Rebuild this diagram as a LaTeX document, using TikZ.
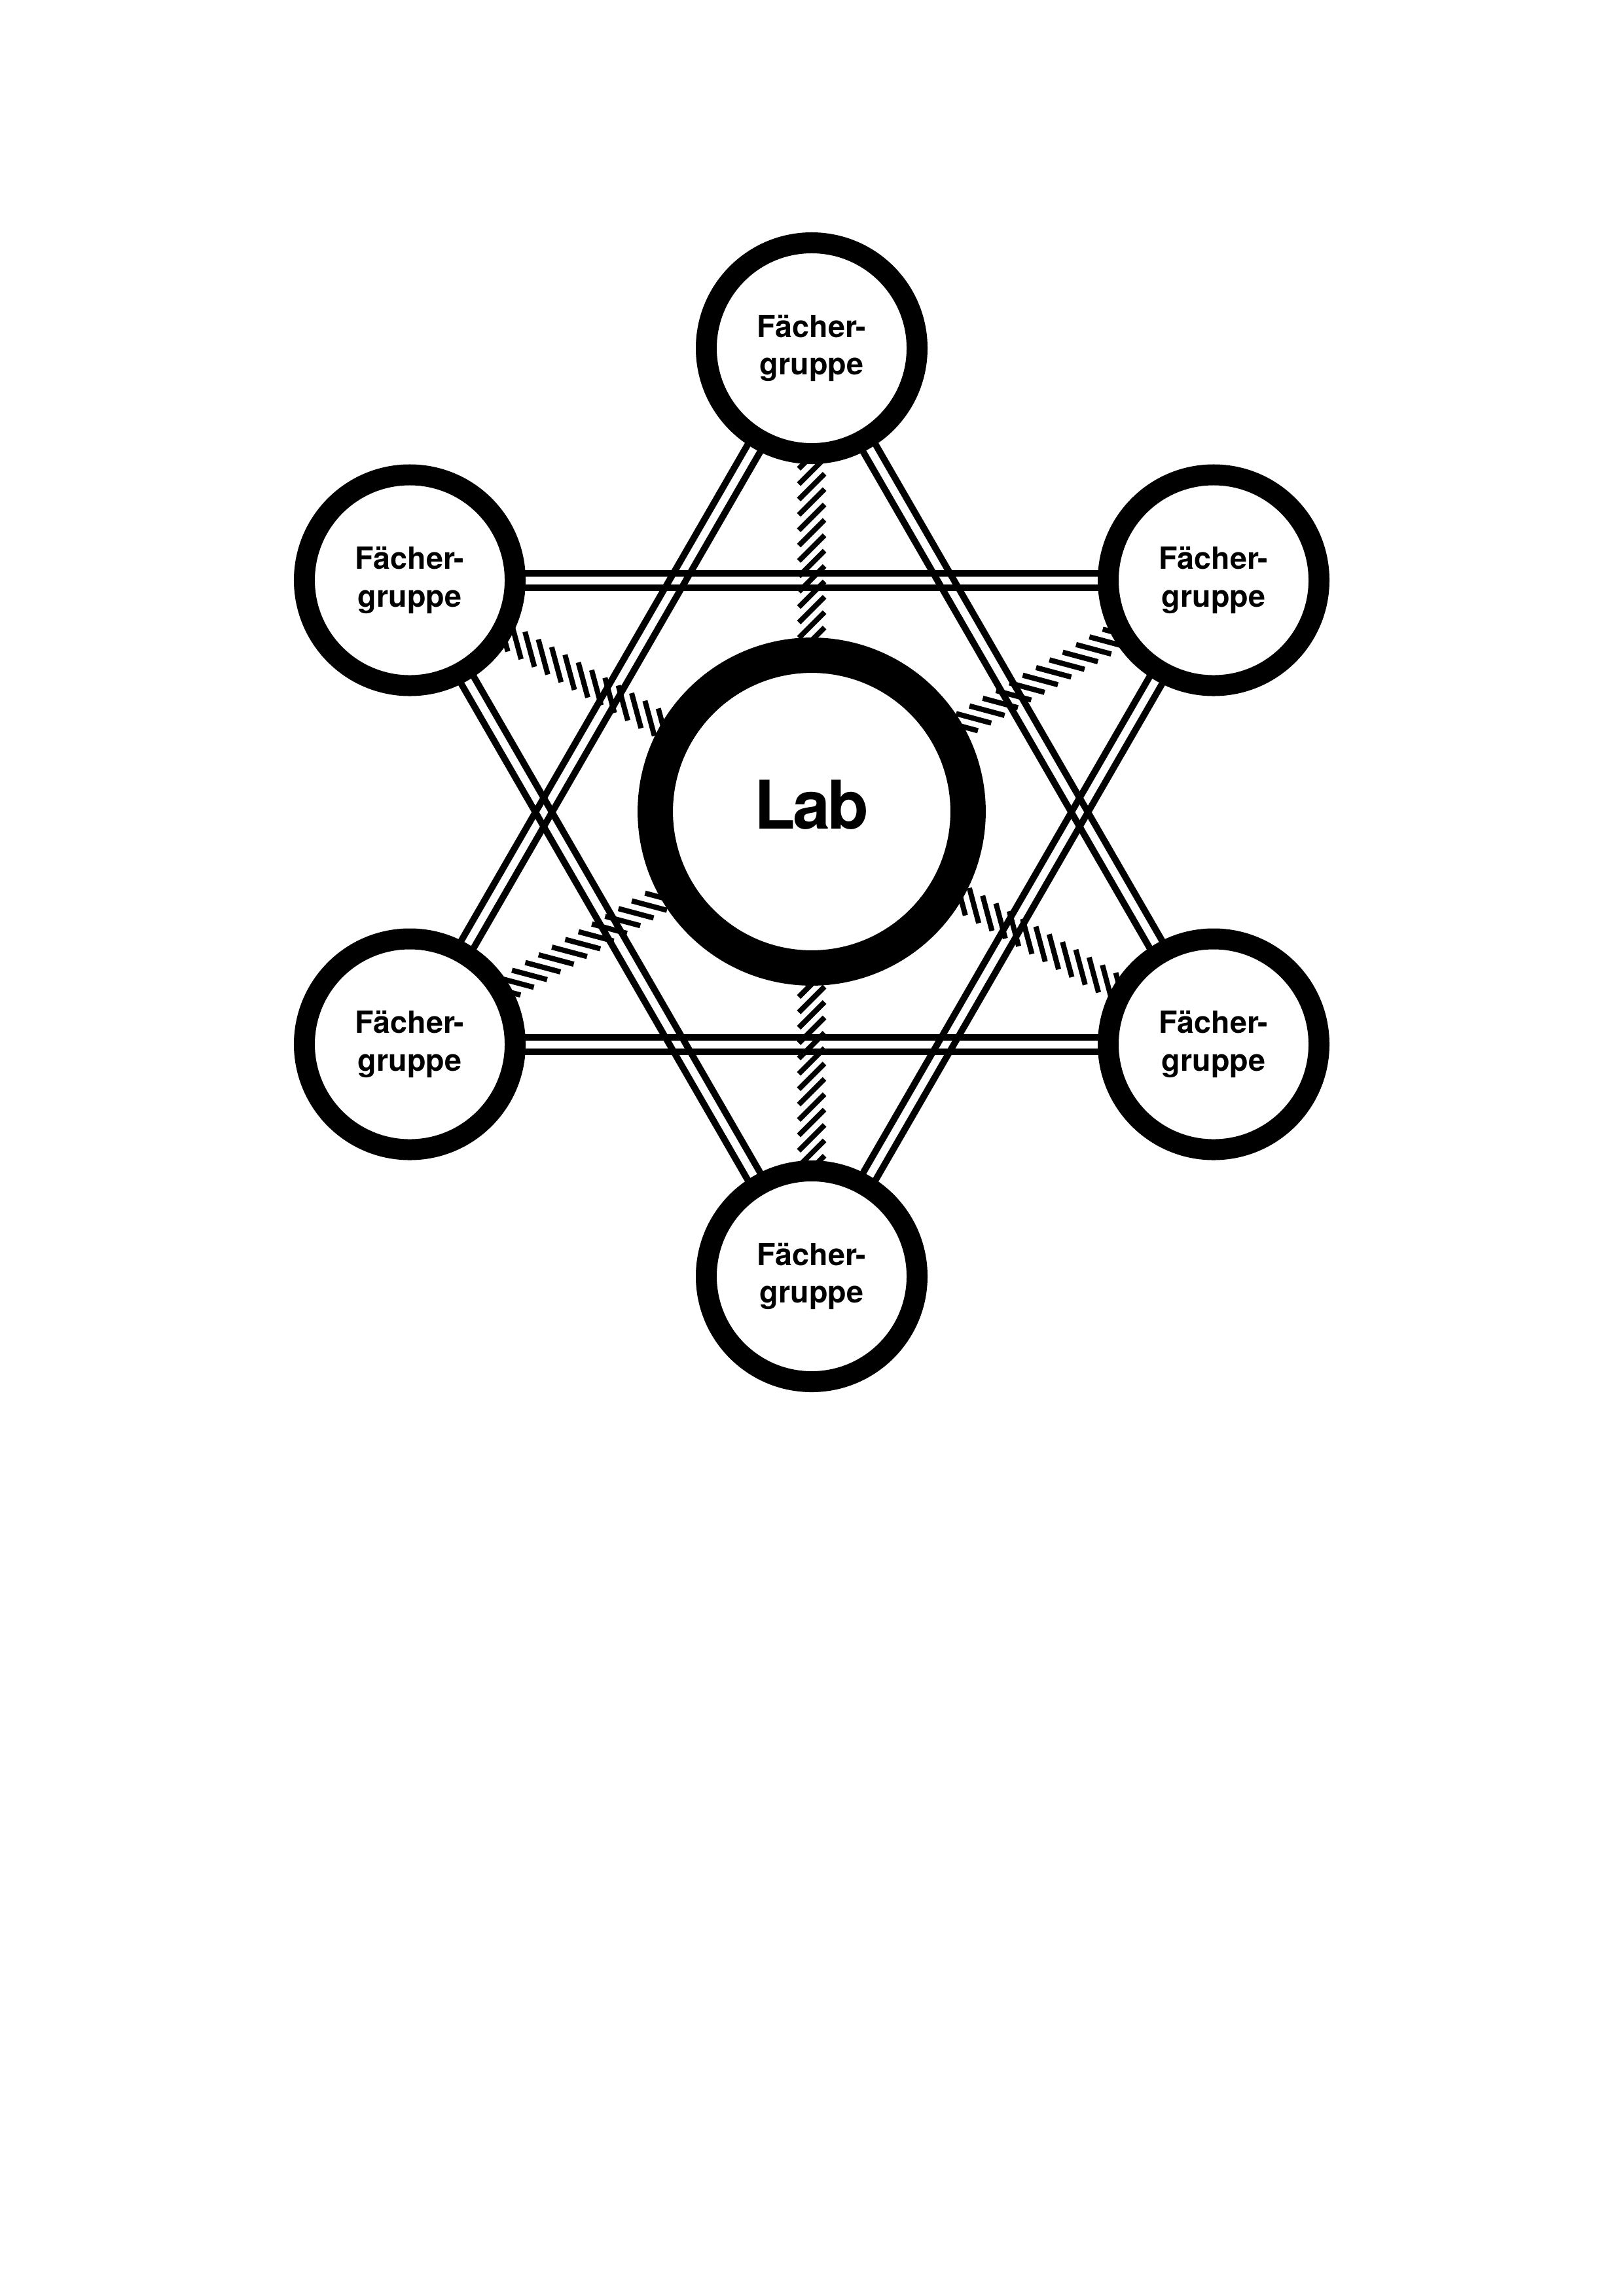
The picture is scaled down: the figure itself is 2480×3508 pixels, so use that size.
\documentclass[tikz,border=0pt]{standalone}
\usepackage{fontspec}
\setmainfont{TeX Gyre Heros}
\usetikzlibrary{calc,backgrounds}
\begin{document}
\begin{tikzpicture}[x=0.240031pt,y=-0.240031pt,
  fg/.style={circle,draw=black,fill=white,line width=7.68pt,minimum size=77.3pt,inner sep=0pt,align=center,font=\fontsize{11.2}{13.9}\selectfont\bfseries},
  labnode/.style={circle,draw=black,fill=white,line width=12.96pt,minimum size=114.7pt,inner sep=0pt,font=\fontsize{24.6}{28}\selectfont\bfseries,text height=17.7pt,text depth=5.1pt},
  dline/.style={line width=2.4pt},
  hatchline/.style={line width=1.92pt}]
\useasboundingbox (0,0) rectangle (2480,3508);
\node[fg] (T)  at (1240,532)    {Fächer-\\gruppe};
\node[fg] (UL) at (626,886.5)   {Fächer-\\gruppe};
\node[fg] (UR) at (1854,886.5)  {Fächer-\\gruppe};
\node[fg] (LL) at (626,1595.5)  {Fächer-\\gruppe};
\node[fg] (LR) at (1854,1595.5) {Fächer-\\gruppe};
\node[fg] (B)  at (1240,1950)   {Fächer-\\gruppe};
\node[labnode] (Lab) at (1240,1240) {L\kern-0.9pt a\kern-0.9pt b};
\begin{scope}[on background layer]
\foreach \a/\b in {T/LL,T/LR,LL/LR,B/UL,B/UR,UL/UR}{
  \draw[dline] ($(\a)!2.64pt!90:(\b)$) -- ($(\b)!2.64pt!-90:(\a)$);
  \draw[dline] ($(\a)!2.64pt!-90:(\b)$) -- ($(\b)!2.64pt!90:(\a)$);
}
\foreach \n in {T,UL,UR,LL,LR,B}{
  \foreach \i in {0,...,29}{
    \pgfmathsetmacro\dd{\i*5.64}
    \coordinate (p) at ($(\n)!\dd pt!(Lab)$);
    \draw[hatchline] ($(p)!6.67pt!-45:(Lab)$) -- ($(p)!6.67pt!135:(Lab)$);
  }
}
\end{scope}
\end{tikzpicture}
\end{document}
